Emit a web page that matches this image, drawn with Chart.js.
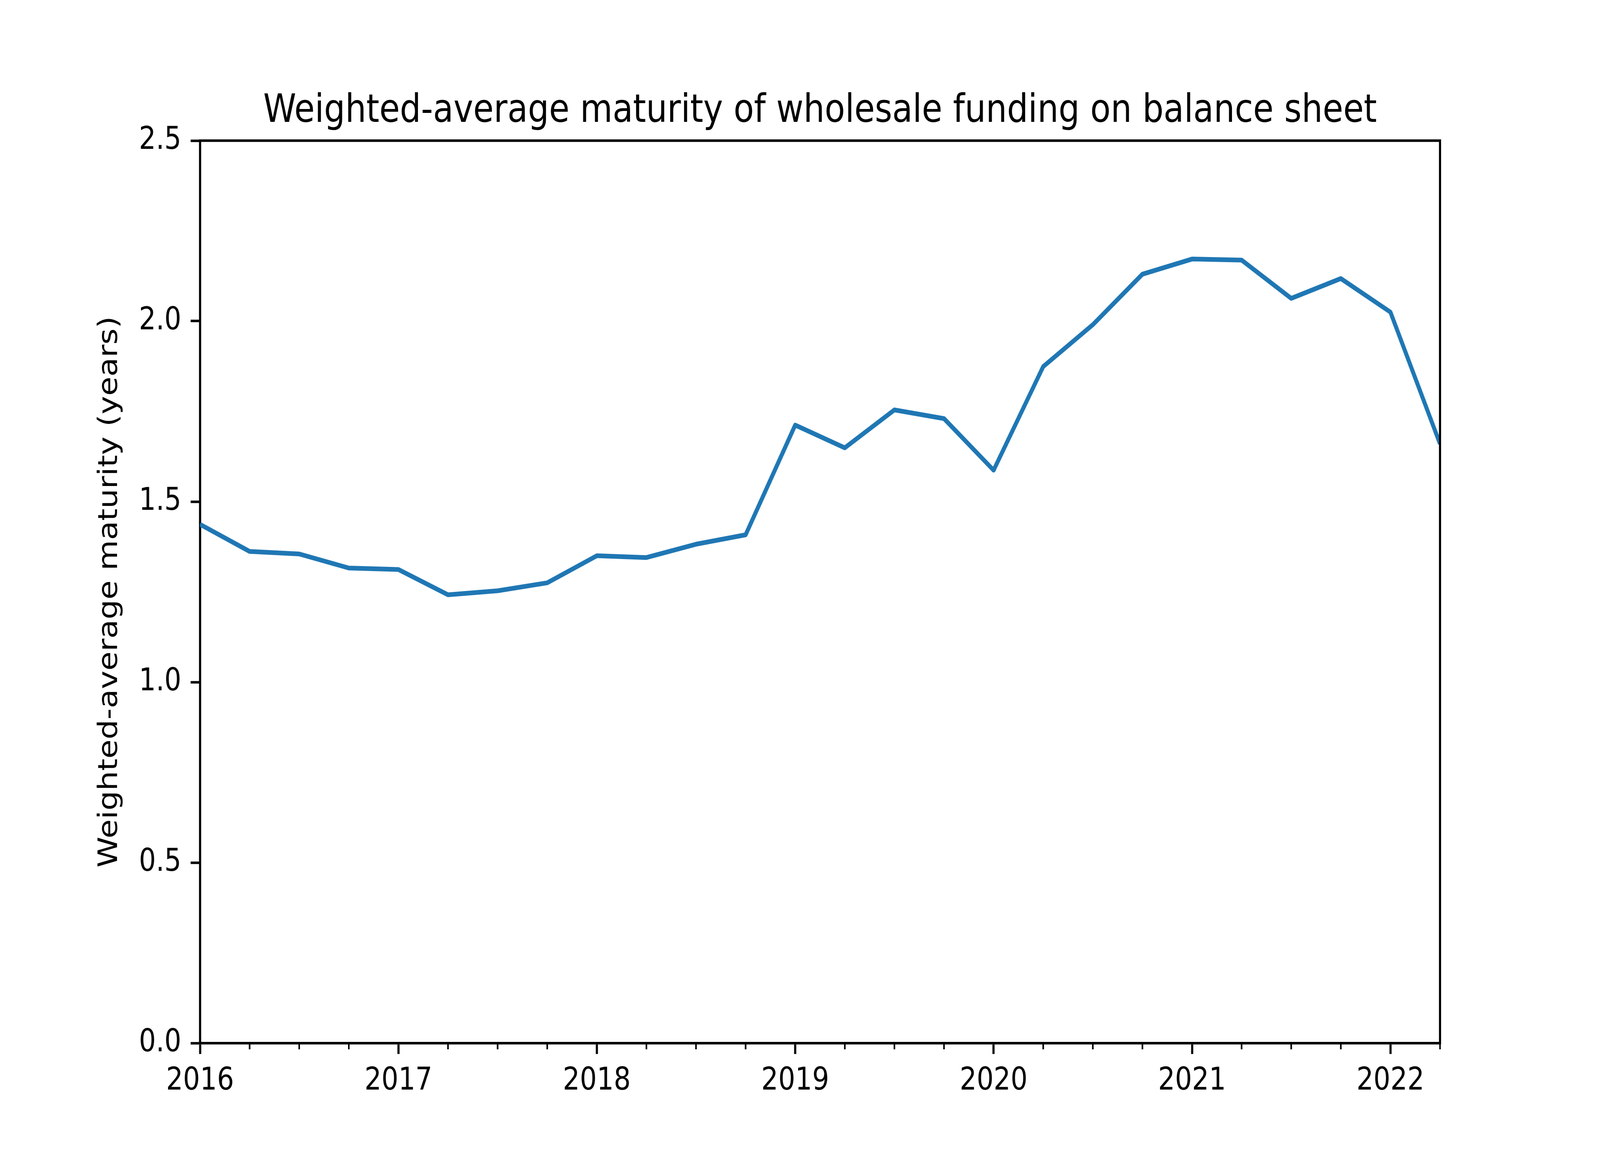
<!DOCTYPE html>
<html>
<head>
<meta charset="utf-8">
<title>Weighted-average maturity of wholesale funding</title>
<script src="https://cdn.jsdelivr.net/npm/chart.js@4/dist/chart.umd.min.js"></script>
<style>
  html, body { margin: 0; padding: 0; background: #fff; overflow: hidden; }
</style>
</head>
<body>
<canvas id="chart" width="4800" height="3000" style="display:block;width:100vw;height:100vh"></canvas>
<script>
// quarter-end positions in fractional years
var quarters = [
  2016, 2016.25, 2016.5, 2016.75,
  2017, 2017.25, 2017.5, 2017.75,
  2018, 2018.25, 2018.5, 2018.75,
  2019, 2019.25, 2019.5, 2019.75,
  2020, 2020.25, 2020.5, 2020.75,
  2021, 2021.25, 2021.5, 2021.75,
  2022, 2022.25
];

// weighted-average maturity, years
var maturity = [
  1.437, 1.362, 1.355, 1.316,
  1.312, 1.242, 1.253, 1.275,
  1.350, 1.345, 1.382, 1.408,
  1.712, 1.649, 1.754, 1.730,
  1.587, 1.874, 1.990, 2.130,
  2.172, 2.169, 2.063, 2.118,
  2.025, 1.660
];

var yTicks = [0, 0.5, 1.0, 1.5, 2.0, 2.5];
var xTicks = quarters; // majors at whole years, minors between

var TITLE = 'Weighted-average maturity of wholesale funding on balance sheet';
var FONT = '"DejaVu Sans", "Liberation Sans", sans-serif';

// matplotlib-ish box: right + top spines, short minor ticks on x,
// and the title centred over the plot area (not the whole canvas)
var frame = {
  id: 'frame',
  afterDraw: function (chart) {
    var ctx = chart.ctx, a = chart.chartArea, xs = chart.scales.x;
    ctx.save();
    ctx.strokeStyle = '#000';
    ctx.lineWidth = 6.4;
    ctx.lineCap = 'square';
    ctx.beginPath();
    ctx.moveTo(a.left, a.top);
    ctx.lineTo(a.right, a.top);
    ctx.lineTo(a.right, a.bottom);
    ctx.stroke();

    ctx.lineWidth = 4.8;
    ctx.lineCap = 'butt';
    xs.ticks.forEach(function (t) {
      if (t.value % 1 === 0) return;
      var px = xs.getPixelForValue(t.value);
      ctx.beginPath();
      ctx.moveTo(px, a.bottom);
      ctx.lineTo(px, a.bottom + 16);
      ctx.stroke();
    });

    ctx.fillStyle = '#000';
    ctx.font = '100px ' + FONT;
    ctx.textAlign = 'center';
    ctx.textBaseline = 'alphabetic';
    ctx.fillText(TITLE, (a.left + a.right) / 2, a.top - 48);
    ctx.restore();
  }
};

new Chart(document.getElementById('chart'), {
  type: 'line',
  data: {
    datasets: [{
      data: quarters.map(function (q, i) { return { x: q, y: maturity[i] }; }),
      borderColor: '#1f77b4',
      borderWidth: 12,
      borderJoinStyle: 'round',
      pointRadius: 0,
      tension: 0,
      fill: false,
      clip: 0
    }]
  },
  options: {
    responsive: false,
    devicePixelRatio: 1,
    animation: false,
    layout: { padding: { left: 0, right: 480, top: 360, bottom: 0 } },
    plugins: {
      legend: { display: false },
      tooltip: { enabled: false },
      title: { display: false }
    },
    scales: {
      x: {
        type: 'linear',
        min: 2016,
        max: 2022.25,
        afterBuildTicks: function (scale) {
          scale.ticks = xTicks.map(function (v) { return { value: v }; });
        },
        afterFit: function (scale) { scale.height = 330; },
        border: { display: true, color: '#000', width: 6.4 },
        grid: {
          drawOnChartArea: false,
          tickLength: 28,
          tickWidth: 6.4,
          tickColor: function (c) {
            return (c.tick && c.tick.value % 1 === 0) ? '#000' : 'rgba(0,0,0,0)';
          }
        },
        ticks: {
          autoSkip: false,
          maxRotation: 0,
          padding: 22,
          color: '#000',
          font: { family: FONT, size: 80 },
          callback: function (v) { return v % 1 === 0 ? String(v) : ''; }
        }
      },
      y: {
        min: 0,
        max: 2.5,
        afterBuildTicks: function (scale) {
          scale.ticks = yTicks.map(function (v) { return { value: v }; });
        },
        afterFit: function (scale) { scale.width = 600; },
        border: { display: true, color: '#000', width: 6.4 },
        grid: {
          drawOnChartArea: false,
          tickLength: 28,
          tickWidth: 6.4,
          tickColor: '#000'
        },
        ticks: {
          padding: 28,
          color: '#000',
          font: { family: FONT, size: 80 },
          callback: function (v) { return v.toFixed(1); }
        },
        title: {
          display: true,
          text: 'Weighted-average maturity (years)',
          color: '#000',
          font: { family: FONT, size: 80, lineHeight: 1.2 },
          padding: { top: 282, bottom: 0 }
        }
      }
    }
  },
  plugins: [frame]
});
</script>
</body>
</html>
